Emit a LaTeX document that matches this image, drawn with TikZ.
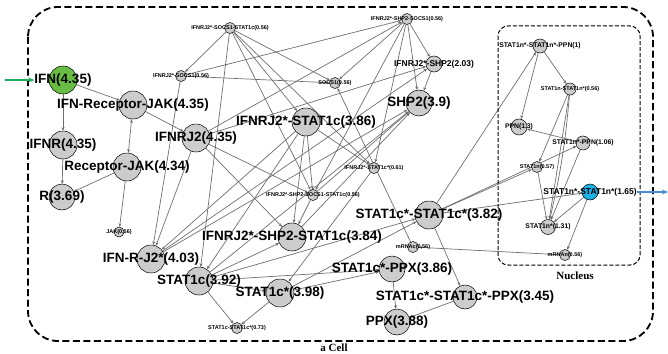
\documentclass[tikz,border=0pt]{standalone}
\usepackage{fontspec}
\setmainfont{Liberation Sans}
\newfontfamily\capfont{Liberation Serif}
\usetikzlibrary{arrows.meta}

\definecolor{spgray}{RGB}{204,204,204}
\definecolor{edgegray}{RGB}{110,110,110}
\definecolor{ifngreen}{RGB}{104,188,68}
\definecolor{dimblue}{RGB}{28,178,230}
\definecolor{ingreen}{RGB}{30,176,90}
\definecolor{outblue}{RGB}{72,140,208}

\pgfdeclarelayer{bg}
\pgfsetlayers{bg,main}

\tikzset{
  sp/.style={circle, draw=black, line width=0.5pt, fill=spgray, inner sep=0pt, minimum size=2*#1},
  bigtxt/.style={font=\bfseries\fontsize{13.5}{14}\selectfont, inner sep=0pt},
  midtxt/.style={font=\bfseries\fontsize{8.5}{9}\selectfont, inner sep=0pt},
  smalltxt/.style={font=\bfseries\fontsize{6.8}{7}\selectfont, inner sep=0pt},
  tinytxt/.style={font=\bfseries\fontsize{5.5}{6}\selectfont, inner sep=0pt},
  rx/.style={draw=edgegray, line width=0.7pt, -{Stealth[length=3.5pt,width=3pt]}},
  cellbox/.style={line width=1.8pt, dash pattern=on 7pt off 3.5pt, rounded corners=30pt},
  nucbox/.style={line width=1pt, dash pattern=on 4pt off 2pt, rounded corners=10pt},
  boxtxt/.style={font=\capfont\bfseries\fontsize{11}{12}\selectfont, inner sep=0pt}
}

\begin{document}
\begin{tikzpicture}[x=1pt, y=-1pt]

    % Page frame, same proportions as the reference
    \useasboundingbox (0,0) rectangle (668,353);

    % Compartments
    \draw[cellbox] (28,7) rectangle (653,341);
    \draw[nucbox] (498,26) rectangle (640,265);
    \node[boxtxt] (celllbl) at (334,347.5) {a Cell};
    \node[boxtxt] (nuclbl) at (575,276) {Nucleus};

    % Receptor side of the network
    \node[sp=14, fill=ifngreen, label={[bigtxt, name=ifnlbl]center:IFN(4.35)}] (ifn) at (63,80) {};
    \node[sp=14, label={[bigtxt]center:IFN-Receptor-JAK(4.35)}] (ifnrjak) at (133,105) {};
    \node[sp=14, label={[bigtxt]center:IFNR(4.35)}] (ifnr) at (63,145) {};
    \node[sp=14, label={[bigtxt]center:Receptor-JAK(4.34)}] (recjak) at (127,167) {};
    \node[sp=13, label={[bigtxt]center:R(3.69)}] (r) at (62,197) {};
    \node[sp=5, label={[tinytxt]center:JAK(0.56)}] (jak) at (119,232) {};
    \node[sp=14, label={[bigtxt]center:IFNRJ2(4.35)}] (ifnrj2) at (196,138) {};
    \node[sp=14, label={[bigtxt]center:IFN-R-J2*(4.03)}] (ifnrj2s) at (151,259) {};

    % Complexes with SOCS1 and SHP2
    \node[sp=5.5, label={[tinytxt]center:IFNRJ2*-SOCS1(0.56)}] (jsocs) at (181,76) {};
    \node[sp=5.5, label={[tinytxt]center:IFNRJ2*-SOCS1-STAT1c(0.56)}] (jsocsst) at (230,28) {};
    \node[sp=5.5, label={[tinytxt]center:IFNRJ2*-SHP2-SOCS1(0.56)}] (jshpsocs) at (407,19) {};
    \node[sp=5.5, label={[tinytxt]center:SOCS1(0.56)}] (socs) at (335,83) {};
    \node[sp=8, label={[midtxt]center:IFNRJ2*-SHP2(2.03)}] (jshp) at (434,64) {};
    \node[sp=13, label={[bigtxt]center:SHP2(3.9)}] (shp) at (419,103) {};
    \node[sp=14, label={[bigtxt]center:IFNRJ2*-STAT1c(3.86)}] (jst) at (306,122) {};
    \node[sp=5.5, label={[tinytxt]center:IFNRJ2*-STAT1c*(0.61)}] (jsts) at (374,168) {};
    \node[sp=5.5, label={[tinytxt]center:IFNRJ2*-SHP2-SOCS1-STAT1c(0.56)}] (jshpsocsst) at (313,195) {};
    \node[sp=14, label={[bigtxt]center:IFNRJ2*-SHP2-STAT1c(3.84)}] (jshpst) at (292,237) {};

    % Cytoplasmic STAT1
    \node[sp=14, label={[bigtxt]center:STAT1c(3.92)}] (stc) at (199,281) {};
    \node[sp=14, label={[bigtxt]center:STAT1c*(3.98)}] (sts) at (280,293) {};
    \node[sp=5.5, label={[tinytxt]center:STAT1c-STAT1c*(0.73)}] (stcsts) at (237,328) {};
    \node[sp=14, label={[bigtxt]center:STAT1c*-STAT1c*(3.82)}] (stsst) at (429,215) {};
    \node[sp=5.5, label={[tinytxt]center:mRNAc(0.56)}] (mrnac) at (413,247) {};
    \node[sp=13, label={[bigtxt]center:STAT1c*-PPX(3.86)}] (stppx) at (392,269) {};
    \node[sp=13, label={[bigtxt]center:PPX(3.88)}] (ppx) at (397,322) {};
    \node[sp=12, label={[bigtxt]center:STAT1c*-STAT1c*-PPX(3.45)}] (dimppx) at (465,297) {};

    % Nucleus
    \node[sp=7, label={[smalltxt]center:STAT1n*-STAT1n*-PPN(1)}] (ndimppn) at (540,46) {};
    \node[sp=6, label={[tinytxt]center:STAT1n-STAT1n*(0.56)}] (nst) at (570,89) {};
    \node[sp=8, label={[smalltxt]center:PPN(1.3)}] (ppn) at (519,127) {};
    \node[sp=7, label={[smalltxt]center:STAT1n*-PPN(1.06)}] (nppn) at (583,143) {};
    \node[sp=5.5, label={[tinytxt]center:STAT1n(0.57)}] (stn) at (537,167) {};
    \node[sp=8, fill=dimblue, label={[midtxt, name=ndimlbl]center:STAT1n*-STAT1n*(1.65)}] (ndim) at (590,192) {};
    \node[sp=7.5, label={[smalltxt]center:STAT1n*(1.31)}] (stns) at (548,227) {};
    \node[sp=5.5, label={[tinytxt]center:mRNAn(0.56)}] (mrnan) at (565,255) {};

    % Input and output
    \coordinate (entry) at (5,80);
    \coordinate (exit) at (668,192);
    \draw[ingreen, line width=1.4pt, -{Stealth[length=6pt,width=5pt]}] (entry) -- (ifnlbl.west);
    \draw[outblue, line width=1.4pt, -{Stealth[length=6pt,width=5pt]}] (ndimlbl.east) -- (exit);

    % Reactions
    \begin{pgfonlayer}{bg}
    \draw[rx] (ifn) -- (ifnrjak);
    \draw[rx] (ifn) -- (ifnr);
    \draw[rx] (ifnrjak) -- (ifnrj2);
    \draw[rx, {Stealth[length=3.5pt,width=3pt]}-{Stealth[length=3.5pt,width=3pt]}] (ifnrjak) -- (recjak);
    \draw[rx] (ifnr) -- (r);
    \draw[rx] (recjak) -- (r);
    \draw[rx] (recjak) -- (jak);
    \draw[rx] (ifnrj2) -- (ifnrj2s);
    \draw[rx] (ifnrj2) -- (jshpsocs);
    \draw[rx] (ifnrj2) -- (jshp);
    \draw[rx] (ifnrj2) -- (jshpsocsst);
    \draw[rx] (ifnrj2) -- (jshpst);
    \draw[rx] (jsocsst) -- (jsocs);
    \draw[rx] (jsocs) -- (socs);
    \draw[rx] (jsocs) -- (jshpsocs);
    \draw[rx] (jsocs) -- (ifnrj2s);
    \draw[rx] (jsocsst) -- (stc);
    \draw[rx] (jsocsst) -- (socs);
    \draw[rx] (jsocsst) -- (jst);
    \draw[rx] (jsocsst) -- (jsts);
    \draw[rx] (jsocsst) -- (jshpsocsst);
    \draw[rx] (jshpsocs) -- (jshp);
    \draw[rx] (jshpsocs) -- (shp);
    \draw[rx] (jshpsocs) -- (socs);
    \draw[rx] (jshpsocs) -- (jshpsocsst);
    \draw[rx] (jshpsocs) -- (jsts);
    \draw[rx] (jshp) -- (shp);
    \draw[rx] (jshpst) -- (shp);
    \draw[rx] (jshpsocsst) -- (shp);
    \draw[rx] (stc) -- (shp);
    \draw[rx] (ifnrj2s) -- (jshp);
    \draw[rx] (ifnrj2s) -- (shp);
    \draw[rx] (jst) -- (ifnrj2s);
    \draw[rx] (jst) -- (stc);
    \draw[rx] (jst) -- (jshpst);
    \draw[rx] (jst) -- (jsts);
    \draw[rx] (jst) -- (jshpsocsst);
    \draw[rx] (jshpsocsst) -- (jshpst);
    \draw[rx] (mrnac) -- (socs);
    \draw[rx] (stc) -- (jshpst);
    \draw[rx] (stc) -- (stppx);
    \draw[rx] (stc) -- (sts);
    \draw[rx] (stc) -- (stcsts);
    \draw[rx] (stc) -- (stsst);
    \draw[rx] (sts) -- (stcsts);
    \draw[rx] (sts) -- (stppx);
    \draw[rx] (sts) -- (stsst);
    \draw[rx] (jsts) -- (sts);
    \draw[rx] (stppx) -- (ppx);
    \draw[rx] (dimppx) -- (ppx);
    \draw[rx] (stsst) -- (dimppx);
    \draw[rx] (stsst) -- (ndim);
    \draw[rx] (stsst) -- (stn);
    \draw[rx] (stsst) -- (nppn);
    \draw[rx] (stsst) -- (ndimppn);
    \draw[rx] (mrnan) -- (mrnac);
    \draw[rx] (ndimppn) -- (nst);
    \draw[rx] (ndimppn) -- (ppn);
    \draw[rx] (nppn) -- (ppn);
    \draw[rx] (nst) -- (stn);
    \draw[rx] (nst) -- (stns);
    \draw[rx, bend left=4] (nst) to (stns);
    \draw[rx] (nppn) -- (stns);
    \draw[rx] (stn) -- (stns);
    \draw[rx] (ndim) -- (stns);
    \draw[rx] (ndim) -- (mrnan);
    \end{pgfonlayer}

\end{tikzpicture}
\end{document}
